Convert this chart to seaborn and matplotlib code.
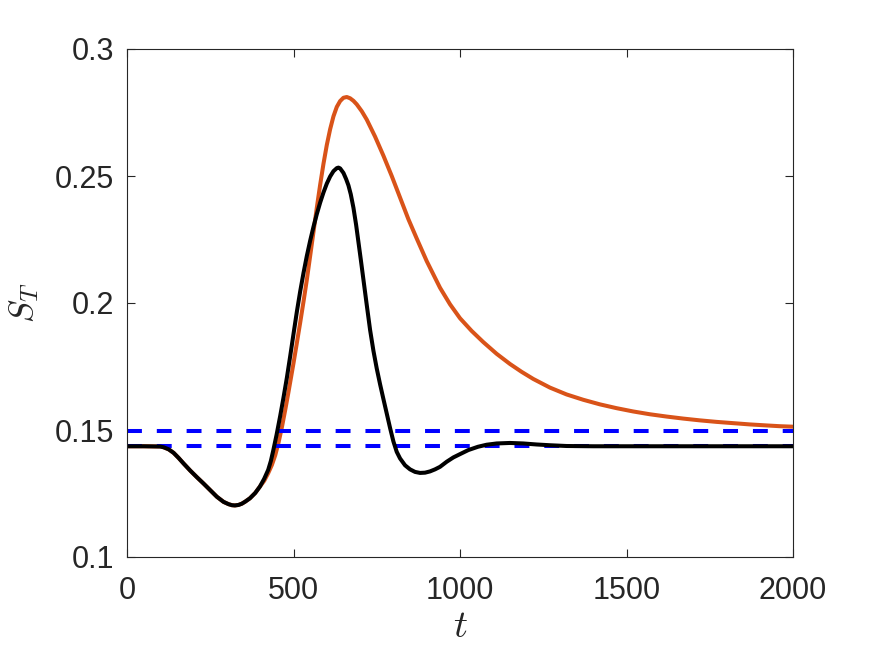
import numpy as np
import pandas as pd
import matplotlib
matplotlib.use("Agg")
import matplotlib.pyplot as plt
import seaborn as sns

# ---- data ----
t_black = [0, 50, 100, 110, 125, 140, 155, 170, 190, 210, 230, 250, 270, 290, 305, 315,
           324, 335, 345, 355, 369, 385, 399, 412, 424, 432, 439, 449, 460, 470, 480,
           490, 500, 510, 520, 530, 540, 550, 560, 570, 580, 590, 600, 610, 620, 630,
           635, 640, 650, 658, 665, 672, 680, 688, 695, 702, 710, 720, 730, 740, 750,
           760, 770, 780, 790, 800, 810, 820, 835, 850, 865, 880, 895, 910, 925, 940,
           960, 980, 1000, 1025, 1054, 1080, 1110, 1150, 1190, 1230, 1270, 1320, 1400,
           1500, 1600, 1800, 2000]
s_black = [0.1436, 0.1436, 0.1435, 0.1432, 0.1424, 0.1410, 0.1390, 0.1368, 0.1340, 0.1314,
           0.1289, 0.1263, 0.1237, 0.1217, 0.1208, 0.1204,
           0.1203, 0.1205, 0.1210, 0.1218, 0.1231, 0.1252, 0.1277, 0.1308, 0.1343, 0.1378,
           0.1418, 0.1480, 0.1555, 0.1628, 0.1705,
           0.1790, 0.1878, 0.1965, 0.2045, 0.2118, 0.2185, 0.2245, 0.2300, 0.2350, 0.2395,
           0.2435, 0.2470, 0.2498, 0.2519, 0.2531,
           0.2533, 0.2530, 0.2512, 0.2488, 0.2463, 0.2428, 0.2375, 0.2308, 0.2240, 0.2172,
           0.2092, 0.1992, 0.1894, 0.1812, 0.1742,
           0.1680, 0.1622, 0.1565, 0.1508, 0.1455, 0.1414, 0.1388, 0.1361, 0.1345, 0.1335,
           0.1331, 0.1332, 0.1337, 0.1345, 0.1355,
           0.1375, 0.1392, 0.1405, 0.1421, 0.1434, 0.1442, 0.1447, 0.1449, 0.1447, 0.1443,
           0.1440, 0.1437, 0.1436,
           0.1436, 0.1436, 0.1436, 0.1436]

t_orange = [0, 50, 100, 110, 125, 140, 155, 170, 190, 210, 230, 250, 270, 290, 305, 315,
            324, 335, 345, 355, 369, 385, 399, 412, 424, 435, 445, 455, 465, 475, 485,
            500, 510, 520, 530, 540, 550, 560, 570, 580, 590, 600, 610, 620, 630, 640,
            650, 660, 670, 680, 690, 705, 720, 745, 770, 795, 820, 845, 870, 900, 940,
            970, 1000, 1035, 1070, 1110, 1150, 1185, 1220, 1270, 1320, 1370, 1420, 1470,
            1520, 1570, 1620, 1670, 1720, 1770, 1820, 1870, 1920, 1960, 2000]
s_orange = [0.1436, 0.1436, 0.1435, 0.1432, 0.1424, 0.1410, 0.1390, 0.1368, 0.1340, 0.1314,
            0.1289, 0.1263, 0.1237, 0.1217, 0.1208, 0.1204,
            0.1203, 0.1205, 0.1210, 0.1218, 0.1231, 0.1252, 0.1277, 0.1300, 0.1330, 0.1362,
            0.1400, 0.1450, 0.1510, 0.1578, 0.1650,
            0.1763, 0.1842, 0.1922, 0.2005, 0.2091, 0.2185, 0.2280, 0.2375, 0.2465, 0.2548,
            0.2622, 0.2684, 0.2735, 0.2772, 0.2795,
            0.2808, 0.2811, 0.2806, 0.2796, 0.2782, 0.2755, 0.2722, 0.2655, 0.2580, 0.2500,
            0.2415, 0.2330, 0.2254, 0.2165, 0.2060,
            0.1995, 0.1940, 0.1890, 0.1846, 0.1800, 0.1760, 0.1729, 0.1701, 0.1667, 0.1640,
            0.1619, 0.1601, 0.1586,
            0.1573, 0.1562, 0.1553, 0.1545, 0.1538, 0.1532, 0.1527, 0.1522, 0.1518, 0.1515,
            0.1513]

ref_levels = [0.1497, 0.1436]

x_ticks = [0, 500, 1000, 1500, 2000]
y_ticks = [0.1, 0.15, 0.2, 0.25, 0.3]
y_tick_labels = ["0.1", "0.15", "0.2", "0.25", "0.3"]

# ---- style ----
sns.set_style("white")
plt.rcParams["font.family"] = ["Liberation Sans", "DejaVu Sans"]
plt.rcParams["mathtext.fontset"] = "cm"

fig = plt.figure(figsize=(8.75, 6.57), dpi=100)
ax = fig.add_axes([127 / 875, 100 / 657, 666 / 875, 508 / 657])

df_o = pd.DataFrame({"t": t_orange, "S": s_orange})
df_b = pd.DataFrame({"t": t_black, "S": s_black})

sns.lineplot(data=df_o, x="t", y="S", ax=ax, color="#D95319", linewidth=2.9,
             sort=False, estimator=None)
for lvl in ref_levels:
    ax.axhline(lvl, color="#0000FF", linewidth=2.9, dashes=(3.7, 3.7))
sns.lineplot(data=df_b, x="t", y="S", ax=ax, color="black", linewidth=2.9,
             sort=False, estimator=None)

ax.set_xlim(0, 2000)
ax.set_ylim(0.1, 0.3)
ax.set_xticks(x_ticks)
ax.set_xticklabels([str(v) for v in x_ticks])
ax.set_yticks(y_ticks)
ax.set_yticklabels(y_tick_labels)

ax.tick_params(axis="both", which="both", direction="in", length=6, width=0.8,
               colors="#262626", labelsize=22, top=True, right=True,
               bottom=True, left=True)
ax.tick_params(axis="x", pad=14)
ax.tick_params(axis="y", pad=9)
for sp in ax.spines.values():
    sp.set_visible(True)
    sp.set_color("#262626")
    sp.set_linewidth(0.8)

ax.set_xlabel(r"$t$", fontsize=28, color="#262626", labelpad=2)
ax.set_ylabel(r"$S_T$", fontsize=25, color="#262626", labelpad=10)

fig.savefig("out.png", dpi=100)
